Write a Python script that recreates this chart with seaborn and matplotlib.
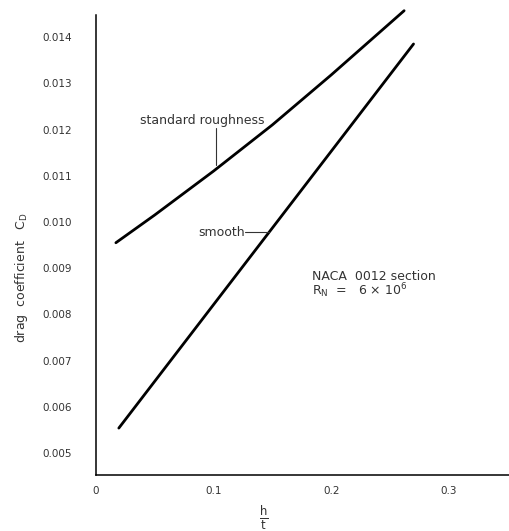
import matplotlib
matplotlib.use("Agg")
import matplotlib.pyplot as plt
import seaborn as sns
import pandas as pd

# data
rough_ht = [0.017, 0.05, 0.10, 0.15, 0.20, 0.262]
rough_cd = [0.00955, 0.01015, 0.0111, 0.0121, 0.01318, 0.01457]
smooth_ht = [0.0195, 0.27]
smooth_cd = [0.00554, 0.01385]
y_ticks = [0.005, 0.006, 0.007, 0.008, 0.009, 0.010, 0.011, 0.012, 0.013, 0.014]
y_labels = ["0.005", "0.006", "0.007", "0.008", "0.009", "0.010", "0.011", "0.012", "0.013", "0.014"]
x_ticks = [0.1, 0.2, 0.3]
x_labels = ["0.1", "0.2", "0.3"]

sns.set_style("white")
plt.rcParams['font.family'] = ['DejaVu Sans']

fig = plt.figure(figsize=(5.10, 5.31), dpi=100)
ax = fig.add_axes([0.188, 0.105, 0.812, 0.867])

df_r = pd.DataFrame({"h": rough_ht, "cd": rough_cd})
df_s = pd.DataFrame({"h": smooth_ht, "cd": smooth_cd})
sns.lineplot(data=df_r, x="h", y="cd", ax=ax, color="black", lw=2.0, clip_on=False)
sns.lineplot(data=df_s, x="h", y="cd", ax=ax, color="black", lw=2.0, clip_on=False)

ax.set_xlim(0, 0.352)
ax.set_ylim(0.00452, 0.01448)
for s in ["top", "right"]:
    ax.spines[s].set_visible(False)
for s in ["left", "bottom"]:
    ax.spines[s].set_linewidth(1.1)
    ax.spines[s].set_color("black")

txt = "#333333"
ax.set_yticks(y_ticks)
ax.set_yticklabels(y_labels, fontsize=7.5, color=txt)
ax.set_xticks(x_ticks)
ax.set_xticklabels(x_labels, fontsize=7.5, color=txt)
ax.tick_params(axis="y", direction="inout", length=6, width=0.9, pad=14)
ax.tick_params(axis="x", direction="in", length=4, width=0.6, pad=8)
ax.text(0, -0.023, "0", transform=ax.get_xaxis_transform(), fontsize=7.5, color=txt,
        ha="center", va="top")

ax.set_xlabel(r"$\frac{\mathrm{h}}{\mathrm{t}}$", fontsize=12, color=txt)
ax.xaxis.set_label_coords(0.405, -0.062)
ax.set_ylabel(r"drag  coefficient   C$_\mathrm{D}$", fontsize=9, color=txt)
ax.yaxis.set_label_coords(-0.16, 0.43)

ax.text(0.0376, 0.0122, "standard roughness", fontsize=9, color=txt, ha="left", va="center")
ax.plot([0.1017, 0.1017], [0.01203, 0.01123], color=txt, lw=0.8)
ax.text(0.1265, 0.00978, "smooth", fontsize=9, color=txt, ha="right", va="center")
ax.plot([0.1268, 0.147], [0.00978, 0.00978], color=txt, lw=0.8)

ax.text(0.1838, 0.00883, "NACA  0012 section", fontsize=9, color=txt, ha="left", va="center")
ax.text(0.1838, 0.00852, r"R$_\mathrm{N}$  =   6 × 10$^6$", fontsize=9, color=txt, ha="left", va="center")

fig.savefig("out.png", dpi=100)
